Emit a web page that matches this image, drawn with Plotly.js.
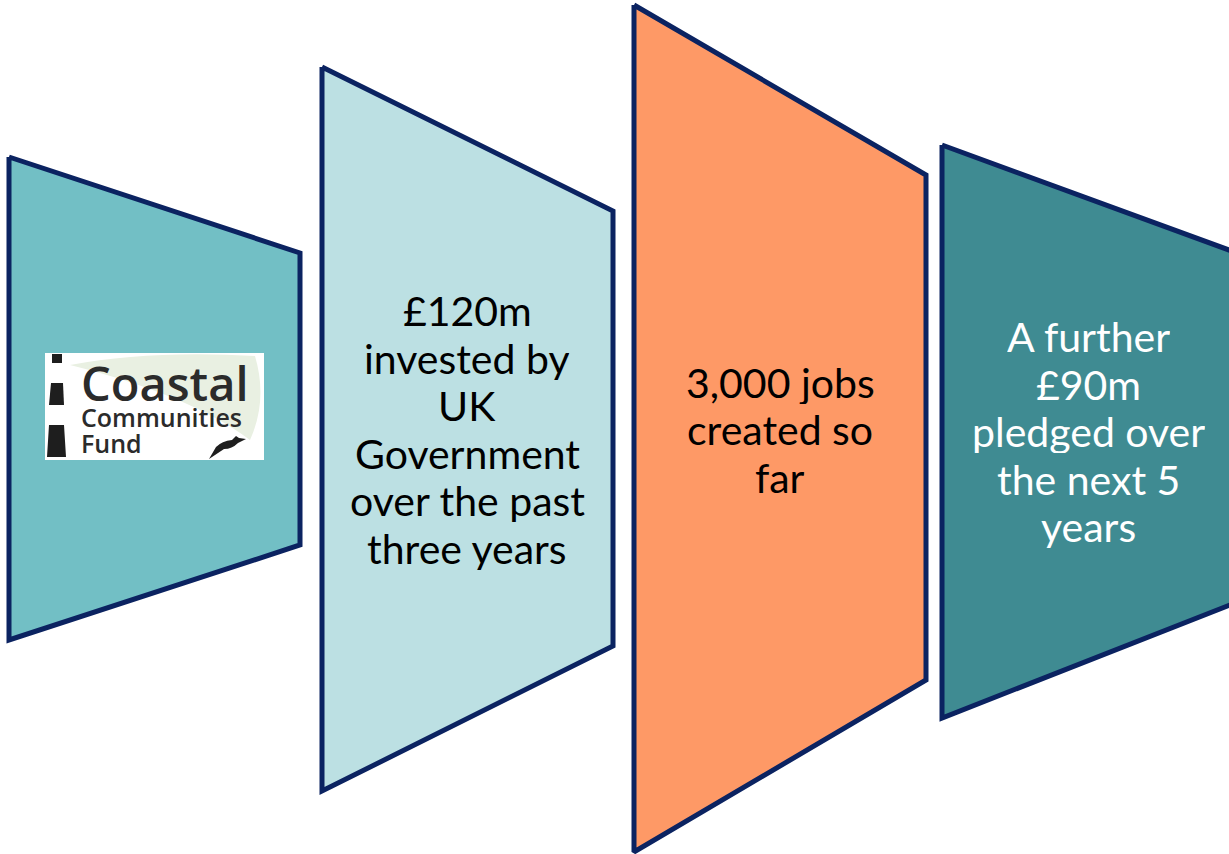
<!DOCTYPE html>
<html>
<head>
<meta charset="utf-8">
<script src="https://cdn.plot.ly/plotly-3.0.1.min.js"></script>
<style>html,body{margin:0;padding:0;background:#fff;}#chart{width:1229px;height:854px;}</style>
</head>
<body>
<div id="chart"></div>
<script>
// ---- Data ----
var panelNames = ["Logo", "Investment", "Jobs", "Pledge"];
var panelLabels = [
  [],
  ["£120m", "invested by", "UK", "Government", "over the past", "three years"],
  ["3,000 jobs", "created so", "far"],
  ["A further", "£90m", "pledged over", "the next 5", "years"]
];
var panelLeftX   = [9, 322, 634, 942];
var panelRightX  = [300, 613, 926, 1240];
var panelLeftTop = [157, 67, 5, 145];
var panelLeftBot = [640, 791, 852, 718];
var panelRightTop= [253, 211, 175, 254];
var panelRightBot= [545, 646, 680, 601];
var panelFill = ["#72BFC5", "#BCE0E3", "#FE9966", "#3F8B92"];
var textColor = ["#000000", "#000000", "#000000", "#FFFFFF"];
var logoLines = ["Coastal", "Communities", "Fund"];

// ---- Build traces ----
var traces = [];
for (var i = 0; i < panelNames.length; i++) {
  traces.push({
    type: "scatter", mode: "lines", name: panelNames[i],
    x: [panelLeftX[i], panelRightX[i], panelRightX[i], panelLeftX[i], panelLeftX[i]],
    y: [panelLeftTop[i], panelRightTop[i], panelRightBot[i], panelLeftBot[i], panelLeftTop[i]],
    fill: "toself", fillcolor: panelFill[i],
    line: {color: "#0B2361", width: 5}, hoverinfo: "skip"
  });
}

var lineGap = 47.5;
var centerX = [0, 467, 780, 1088];
var centerY = [0, 429, 429, 431];
var annotations = [];
for (var j = 1; j < panelNames.length; j++) {
  var lines = panelLabels[j];
  var y0 = centerY[j] - (lines.length - 1) * lineGap / 2;
  for (var k = 0; k < lines.length; k++) {
    annotations.push({
      x: centerX[j], y: y0 + k * lineGap, xref: "x", yref: "y", text: lines[k], showarrow: false,
      xanchor: "center", yanchor: "middle", align: "center", height: 44,
      font: {family: "Lato, 'Open Sans', sans-serif", size: 41, color: textColor[j]}
    });
  }
}
// logo text: one text block, sized per line
var logoText = "<span style='font-size:47px'>" + logoLines[0] + "</span><br>" +
  "<span style='font-size:25px'>" + logoLines[1] + "</span><br>" +
  "<span style='font-size:25px'>" + logoLines[2] + "</span>";
annotations.push({x: 79, y: 460, xref: "x", yref: "y", text: logoText, showarrow: false,
  xanchor: "left", yanchor: "bottom", align: "left", yshift: -2,
  font: {family: "'Open Sans', Lato, sans-serif", size: 20, color: "#2B2B2B", weight: 600}});

var shapes = [
  {type: "rect", xref: "x", yref: "y", x0: 45, x1: 264, y0: 353, y1: 460, fillcolor: "#FFFFFF", line: {width: 0}, layer: "above"},
  {type: "path", xref: "x", yref: "y", path: "M 70 365 Q 150 350 255 356 Q 268 400 250 440 Q 190 395 70 365 Z",
   fillcolor: "#E9F0E2", line: {width: 0}, layer: "above"},
  {type: "rect", xref: "x", yref: "y", x0: 52, x1: 62, y0: 354, y1: 363, fillcolor: "#1E1E1E", line: {width: 0}, layer: "above"},
  {type: "path", xref: "x", yref: "y", path: "M 51 383 L 63 383 L 64 405 L 49 405 Z", fillcolor: "#1E1E1E", line: {width: 0}, layer: "above"},
  {type: "path", xref: "x", yref: "y", path: "M 49 425 L 64 425 L 66 457 L 47 457 Z", fillcolor: "#1E1E1E", line: {width: 0}, layer: "above"},
  {type: "path", xref: "x", yref: "y",
   path: "M 209 459 L 216 447 Q 222 441 232 440 L 236 436 L 239 438 L 246 439 L 238 443 Q 232 449 224 449 Z",
   fillcolor: "#1E1E1E", line: {width: 0}, layer: "above"}
];

var layout = {
  width: 1229, height: 854,
  margin: {l: 0, r: 0, t: 0, b: 0},
  paper_bgcolor: "#FFFFFF", plot_bgcolor: "#FFFFFF",
  showlegend: false,
  xaxis: {range: [0, 1229], visible: false, fixedrange: true},
  yaxis: {range: [854, 0], visible: false, fixedrange: true},
  annotations: annotations,
  shapes: shapes
};

Plotly.newPlot("chart", traces, layout, {displayModeBar: false, staticPlot: true});
</script>
</body>
</html>
